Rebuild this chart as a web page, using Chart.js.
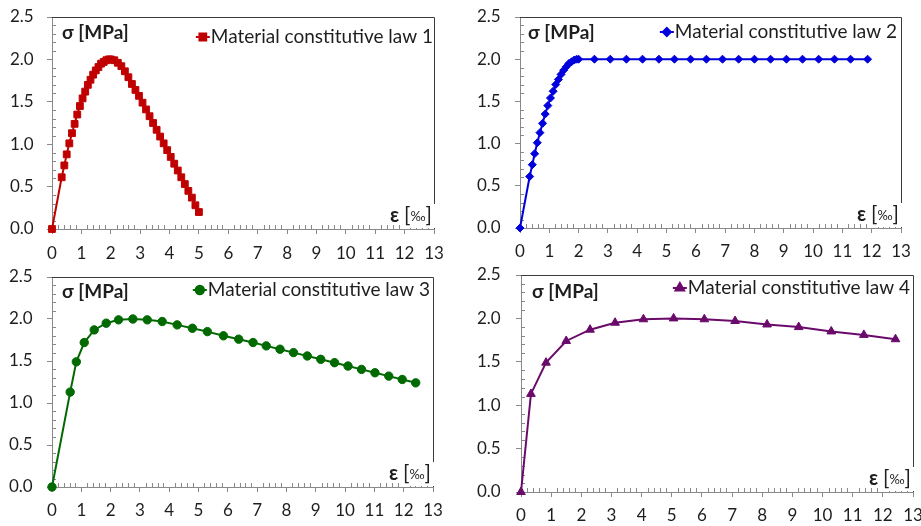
<!DOCTYPE html>
<html>
<head>
<meta charset="utf-8">
<title>Material constitutive laws</title>
<script src="https://cdn.jsdelivr.net/npm/chart.js@4.4.1/dist/chart.umd.min.js"></script>
<style>
  html, body { margin: 0; padding: 0; background: #ffffff; }
  body { width: 921px; height: 526px; position: relative; overflow: hidden; }
  canvas { position: absolute; display: block; }
</style>
</head>
<body>
<canvas id="law1" width="460" height="262" style="left:0;top:0"></canvas>
<canvas id="law2" width="461" height="262" style="left:460px;top:0"></canvas>
<canvas id="law3" width="460" height="264" style="left:0;top:262px"></canvas>
<canvas id="law4" width="461" height="264" style="left:460px;top:262px"></canvas>
<script>
// ---- data: strain ε [‰] and stress σ [MPa] for each constitutive law ----
const law1Strain = [0, 0.33, 0.42, 0.50, 0.59, 0.68, 0.77, 0.86, 0.95, 1.04, 1.13, 1.22, 1.31, 1.40, 1.49, 1.58, 1.67, 1.76, 1.85, 1.93, 2.00,
  2.12, 2.24, 2.36, 2.48, 2.60, 2.72, 2.84, 2.96, 3.08, 3.20, 3.32, 3.44, 3.56, 3.68, 3.80, 3.92, 4.04, 4.16, 4.28, 4.40, 4.52, 4.64, 4.76, 4.88, 5.00];
const law1Stress = [0, 0.61, 0.75, 0.88, 1.01, 1.13, 1.24, 1.35, 1.45, 1.54, 1.62, 1.70, 1.76, 1.82, 1.87, 1.91, 1.95, 1.97, 1.99, 2.00, 2.00,
  1.99, 1.96, 1.92, 1.86, 1.79, 1.71, 1.64, 1.57, 1.49, 1.41, 1.33, 1.25, 1.17, 1.09, 1.01, 0.93, 0.85, 0.77, 0.69, 0.61, 0.53, 0.45, 0.37, 0.28, 0.20];

const law2Strain = [0, 0.33, 0.42, 0.50, 0.59, 0.68, 0.77, 0.86, 0.95, 1.04, 1.13, 1.22, 1.31, 1.40, 1.49, 1.58, 1.67, 1.76, 1.85, 1.93, 2.00,
  2.54, 3.08, 3.63, 4.18, 4.74, 5.27, 5.82, 6.36, 6.91, 7.46, 8.00, 8.55, 9.09, 9.64, 10.19, 10.73, 11.28, 11.86];
const law2Stress = [0, 0.61, 0.75, 0.88, 1.01, 1.13, 1.24, 1.35, 1.45, 1.54, 1.62, 1.70, 1.76, 1.82, 1.87, 1.91, 1.95, 1.97, 1.99, 2.00, 2.00,
  2.00, 2.00, 2.00, 2.00, 2.00, 2.00, 2.00, 2.00, 2.00, 2.00, 2.00, 2.00, 2.00, 2.00, 2.00, 2.00, 2.00, 2.00];

const law3Strain = [0, 0.62, 0.83, 1.10, 1.44, 1.85, 2.27, 2.76, 3.25, 3.76, 4.27, 4.79, 5.30, 5.85, 6.37, 6.86, 7.31, 7.78, 8.24, 8.71, 9.17, 9.64, 10.10, 10.56, 11.02, 11.49, 11.95, 12.41];
const law3Stress = [0, 1.13, 1.49, 1.72, 1.87, 1.95, 1.99, 2.00, 1.99, 1.97, 1.93, 1.89, 1.85, 1.80, 1.76, 1.72, 1.68, 1.64, 1.60, 1.56, 1.52, 1.48, 1.44, 1.40, 1.36, 1.32, 1.28, 1.24];

const law4Strain = [0, 0.33, 0.83, 1.50, 2.29, 3.12, 4.06, 5.06, 6.08, 7.10, 8.16, 9.21, 10.29, 11.37, 12.42];
const law4Stress = [0, 1.13, 1.49, 1.74, 1.87, 1.95, 1.99, 2.00, 1.99, 1.97, 1.93, 1.90, 1.85, 1.81, 1.76];

const seriesNames = ['Material constitutive law 1', 'Material constitutive law 2', 'Material constitutive law 3', 'Material constitutive law 4'];
const yAxisTitle = 'σ [MPa]';
const xAxisSymbol = 'ε';
const xAxisUnit = '‰';

// ---- styling ----
const FONT = 'Lato, "Open Sans", sans-serif';
const AXIS_GREY = '#898989';
const FRAME_DARK = '#3c3c3c';
const TEXT = '#1e1e1e';

// Minor ticks, plot frame, axis titles and the in-plot legend
const excelFrame = {
  id: 'excelFrame',
  beforeDatasetsDraw(chart, args, o) {
    const { ctx, chartArea: a, scales: { x, y } } = chart;
    ctx.save();
    ctx.lineWidth = 1;
    ctx.strokeStyle = AXIS_GREY;
    ctx.beginPath();
    // minor ticks on the stress axis every 0.1, pointing inwards
    for (let i = 1; i < 25; i++) {
      if (i % 5 === 0) continue;
      const py = Math.round(y.getPixelForValue(i / 10)) + 0.5;
      ctx.moveTo(a.left, py); ctx.lineTo(a.left + 4, py);
    }
    // minor ticks on the strain axis every 0.2, pointing inwards
    for (let i = 1; i < 65; i++) {
      if (i % 5 === 0) continue;
      const px = Math.round(x.getPixelForValue(i / 5)) + 0.5;
      ctx.moveTo(px, a.bottom); ctx.lineTo(px, a.bottom - 4);
    }
    ctx.stroke();
    // top and right frame lines
    ctx.strokeStyle = FRAME_DARK;
    ctx.beginPath();
    const t = Math.round(a.top) + 0.5, r = Math.round(a.right) + 0.5;
    ctx.moveTo(Math.round(a.left), t); ctx.lineTo(r, t);
    ctx.lineTo(r, Math.round(a.bottom));
    ctx.stroke();
    ctx.restore();
  },
  afterDraw(chart, args, o) {
    const { ctx, chartArea: a } = chart;
    const ds = chart.data.datasets[0];
    ctx.save();
    ctx.fillStyle = TEXT;
    ctx.textBaseline = 'middle';

    // stress axis title inside the plot
    ctx.font = 'bold 19px ' + FONT;
    ctx.textAlign = 'left';
    ctx.fillText(yAxisTitle, a.left + o.sigmaDx, a.top + o.sigmaDy);

    // legend: line + marker, then series name
    ctx.font = '19px ' + FONT;
    ctx.textAlign = 'right';
    const lx = a.right - o.legendRight, ly = a.top + o.legendDy;
    ctx.fillText(ds.label, lx, ly);
    const tw = ctx.measureText(ds.label).width;
    const mx = lx - tw - 8;
    ctx.strokeStyle = ds.borderColor; ctx.lineWidth = 2;
    ctx.beginPath(); ctx.moveTo(mx - 7, ly); ctx.lineTo(mx + 7, ly); ctx.stroke();
    ctx.fillStyle = ds.backgroundColor;
    Chart.helpers.drawPoint(ctx, { pointStyle: ds.pointStyle, radius: ds.pointRadius, borderWidth: 1, rotation: 0 }, mx, ly);
    ctx.fill();

    // strain axis title with a white box over the frame
    const ey = a.bottom - 13;
    const right = a.right - 2;
    ctx.font = '21px ' + FONT;
    const wb = ctx.measureText(']').width;
    const wo = ctx.measureText('[').width;
    ctx.font = '13px ' + FONT;
    const wu = ctx.measureText(xAxisUnit).width;
    ctx.font = 'bold 20px ' + FONT;
    const we = ctx.measureText(xAxisSymbol + ' ').width;
    const start = right - wb - wu - wo - we;
    ctx.fillStyle = '#ffffff';
    ctx.fillRect(start + we - 1, ey - 12, wb + wu + wo + 6, (a.bottom - ey) + 11);
    ctx.fillStyle = TEXT;
    ctx.textAlign = 'left';
    ctx.fillText(xAxisSymbol, start, ey);
    ctx.font = '21px ' + FONT;
    ctx.fillText('[', start + we, ey - 1);
    ctx.font = '13px ' + FONT;
    ctx.fillText(xAxisUnit, start + we + wo, ey + 1);
    ctx.font = '21px ' + FONT;
    ctx.fillText(']', start + we + wo + wu, ey - 1);
    ctx.restore();
  }
};

function makeChart(id, strain, stress, name, look, box) {
  const points = strain.map((s, i) => ({ x: s, y: stress[i] }));
  return new Chart(document.getElementById(id), {
    type: 'scatter',
    data: {
      datasets: [{
        label: name,
        data: points,
        showLine: true,
        tension: 0,
        borderColor: look.color,
        backgroundColor: look.color,
        borderWidth: 2,
        pointStyle: look.marker,
        pointRadius: look.radius,
        pointBorderWidth: 1,
        pointBorderColor: look.color,
        pointBackgroundColor: look.color,
        clip: false
      }]
    },
    options: {
      responsive: false,
      animation: false,
      events: [],
      layout: { padding: { left: box.padL, right: box.padR, top: box.padT, bottom: 0 } },
      plugins: {
        legend: { display: false },
        tooltip: { enabled: false },
        excelFrame: box.text
      },
      scales: {
        x: {
          type: 'linear', min: 0, max: 13,
          ticks: { stepSize: 1, autoSkip: false, maxRotation: 0, padding: 0, color: TEXT,
                   font: { family: FONT, size: 17, lineHeight: box.xLine } },
          grid: { drawOnChartArea: false, drawTicks: true, tickLength: 5, color: AXIS_GREY },
          border: { color: AXIS_GREY },
          afterFit(s) { s.height = box.xH; s.paddingLeft = 0; s.paddingRight = 0; }
        },
        y: {
          type: 'linear', min: 0, max: 2.5,
          ticks: { stepSize: 0.5, padding: 0, crossAlign: 'far', color: TEXT,
                   font: { family: FONT, size: 17 }, callback: v => v.toFixed(1) },
          grid: { drawOnChartArea: false, drawTicks: true, tickLength: 5, color: AXIS_GREY },
          border: { color: AXIS_GREY },
          afterFit(s) { s.width = box.yW; }
        }
      }
    },
    plugins: [excelFrame]
  });
}

function drawAll() {
  makeChart('law1', law1Strain, law1Stress, seriesNames[0],
    { color: '#c00000', marker: 'rect', radius: 4.8 },
    { padL: 10, padR: 26, padT: 17, xH: 33, yW: 42, xLine: 2.35,
      text: { sigmaDx: 10, sigmaDy: 16, legendRight: 1, legendDy: 20 } });
  makeChart('law2', law2Strain, law2Stress, seriesNames[1],
    { color: '#0000dc', marker: 'rectRot', radius: 4 },
    { padL: 17, padR: 20, padT: 17, xH: 34, yW: 43, xLine: 2.2,
      text: { sigmaDx: 8, sigmaDy: 16, legendRight: 4, legendDy: 15 } });
  makeChart('law3', law3Strain, law3Stress, seriesNames[2],
    { color: '#006a00', marker: 'circle', radius: 4.2 },
    { padL: 9, padR: 27, padT: 15, xH: 39, yW: 43, xLine: 2.2,
      text: { sigmaDx: 10, sigmaDy: 15, legendRight: 3, legendDy: 13 } });
  makeChart('law4', law4Strain, law4Stress, seriesNames[3],
    { color: '#6a0a6a', marker: 'triangle', radius: 5 },
    { padL: 17, padR: 8, padT: 13, xH: 34, yW: 44, xLine: 2.2,
      text: { sigmaDx: 11, sigmaDy: 17, legendRight: 3, legendDy: 13 } });
}

if (document.fonts && document.fonts.load) {
  Promise.all([
    document.fonts.load('17px Lato'),
    document.fonts.load('bold 17px Lato')
  ]).then(drawAll, drawAll);
} else {
  drawAll();
}
</script>
</body>
</html>
